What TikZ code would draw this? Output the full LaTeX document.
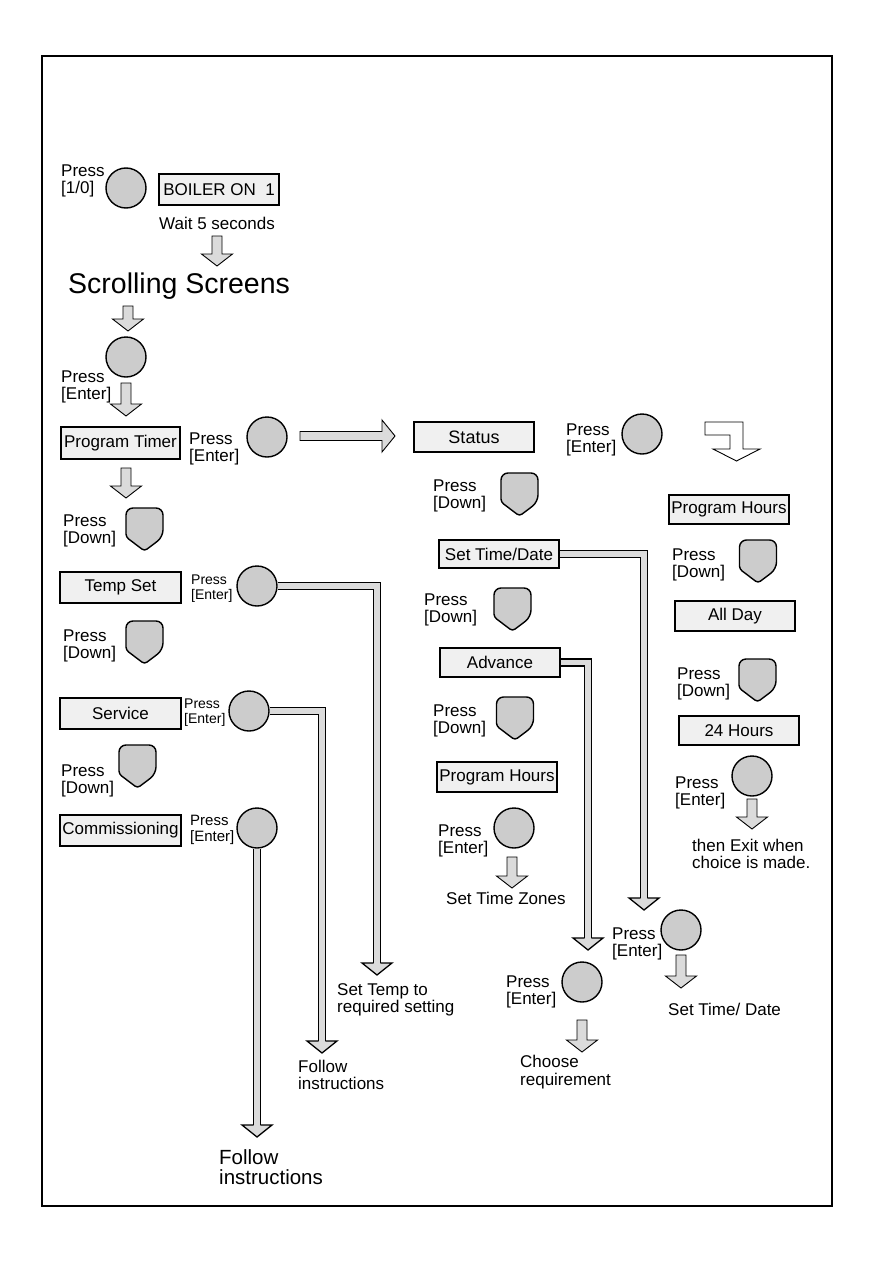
\documentclass[tikz,border=0pt]{standalone}
\usepackage{fontspec}
\setmainfont{Liberation Sans}
\usetikzlibrary{calc, positioning}

\definecolor{screengray}{gray}{0.94}
\definecolor{keygray}{gray}{0.8}
\definecolor{pipegray}{gray}{0.86}

\tikzset{
  screen/.style={draw, line width=1.6pt, fill=screengray, minimum width=120pt,
    minimum height=30pt, inner sep=0pt, font=\fontsize{17}{18}\selectfont},
  btn/.style={circle, draw, line width=1.4pt, fill=keygray, minimum size=40pt, inner sep=0pt},
  lbl/.style={anchor=west, align=left, inner sep=0pt, font=\fontsize{17}{17.5}\selectfont},
  smalllbl/.style={lbl, font=\fontsize{14}{15}\selectfont},
  hollow/.style={draw, line width=0.9pt, fill=pipegray, line join=miter},
  pipe/.style={draw, line width=1.4pt, double=pipegray, double distance=5.5pt},
  pics/darrow/.style={code={
    \draw[hollow] (-5,0) -- (5,0) -- (5,{#1-12}) -- (15.5,{#1-12}) -- (0,#1)
      -- (-15.5,{#1-12}) -- (-5,{#1-12}) -- cycle;}},
  pics/pipehead/.style={code={
    \filldraw[hollow, line width=1.3pt] (-3.45,0) -- (-15,0) -- (0,12) -- (15,0) -- (3.45,0);}},
  pics/downkey/.style={code={
    \draw[line width=1.4pt, fill=keygray] (0,0) [rounded corners=7pt] -- (18.5,0) -- (18.5,29)
      [rounded corners=3pt] -- (0,43) -- (-18.5,29) [rounded corners=7pt] -- (-18.5,0) -- cycle;}},
}

\begin{document}
\begin{tikzpicture}[x=1pt, y=-1pt]
\useasboundingbox (0,0) rectangle (893,1263);
\draw[line width=2pt] (42,56) rectangle (832,1206);

% switching on
\node (pOn) at (61,181) [lbl] {Press\\{[1/0]}};
\node (onBtn) at (126,188) [btn] {};
\node (boiler) at (219,189.5) [screen, minimum height=31pt] {BOILER ON\ \ 1};
\node (wait) at (159,223) [lbl] {Wait 5 seconds};
\pic (aWait) at (217,236) {darrow=30};
\node (scroll) at (68,286) [lbl, font=\fontsize{28.5}{30}\selectfont] {Scrolling Screens};
\pic (aScroll) at (128,306) {darrow=25};
\node (scrollBtn) at (126,357) [btn] {};
\node (pScroll) at (61,387) [lbl] {Press\\{[Enter]}};
\pic (aEnter) at (126,383) {darrow=33};

% left column
\node (ptBox) at (120.5,443) [screen, minimum width=119pt, minimum height=32pt] {Program Timer};
\node (pPt) at (189,449) [lbl] {Press\\{[Enter]}};
\node (ptBtn) at (267,437) [btn] {};
\pic (aPt) at (126,468) {darrow=30};
\node (pDown1) at (63,531) [lbl] {Press\\{[Down]}};
\pic (kDown1) at (144.5,508) {downkey};
\node (tempBox) at (120.5,587.5) [screen, minimum width=121pt, minimum height=31pt] {Temp Set};
\node (pTemp) at (191,589) [smalllbl] {Press\\{[Enter]}};
\node (tempBtn) at (257,586) [btn] {};
\node (pDown2) at (63,646) [lbl] {Press\\{[Down]}};
\pic (kDown2) at (144.5,621) {downkey};
\node (servBox) at (120.5,713.5) [screen, minimum width=121pt, minimum height=31pt] {Service};
\node (pServ) at (184,713) [smalllbl] {Press\\{[Enter]}};
\node (servBtn) at (249,711) [btn] {};
\node (pDown3) at (61,781) [lbl] {Press\\{[Down]}};
\pic (kDown3) at (137.5,745) {downkey};
\node (commBox) at (120.5,830.5) [screen, minimum width=121pt, minimum height=31pt] {Commissioning};
\node (pComm) at (190,830) [lbl, font=\fontsize{15}{16}\selectfont] {Press\\{[Enter]}};
\node (commBtn) at (257,828) [btn] {};

% pipes from the left column
\coordinate (tempEnd) at (377,963);
\coordinate (servEnd) at (322,1041);
\coordinate (commEnd) at (257,1125);
\draw[pipe] (tempBtn.east) -| (tempEnd);
\draw[pipe] (servBtn.east) -| (servEnd);
\draw[pipe] (commBtn.south) -- (commEnd);
\pic at (tempEnd) {pipehead};
\pic at (servEnd) {pipehead};
\pic at (commEnd) {pipehead};
\node (tempTxt) at (337,1000) [lbl] {Set Temp to\\required setting};
\node (servTxt) at (298,1075) [lbl] {Follow\\instructions};
\node (commTxt) at (219,1167) [lbl, font=\fontsize{20.5}{20.5}\selectfont] {Follow\\instructions};

% to the status screen
\coordinate (raStart) at (300,436);
\draw[hollow] (raStart) ++(0,-4.5) -- (382,431.5) -- (382,420) -- (395,436) -- (382,452)
  -- (382,440.5) -- (300,440.5) -- cycle;
\node (status) at (474,437) [screen, font=\fontsize{18}{19}\selectfont] {Status};
\node (pStat) at (566,440) [lbl] {Press\\{[Enter]}};
\node (statBtn) at (642,434) [btn] {};
\draw[hollow, fill=white] (705,422) -- (743,422) -- (743,449) -- (760,449) -- (736.5,461)
  -- (713,449) -- (730,449) -- (730,435) -- (705,435) -- cycle;

% middle column
\node (pDown4) at (433,496) [lbl] {Press\\{[Down]}};
\pic (kDown4) at (519.5,473) {downkey};
\node (stdBox) at (499,554) [screen, minimum height=28pt] {Set Time/Date};
\node (pDown5) at (424,610) [lbl] {Press\\{[Down]}};
\pic (kDown5) at (512.5,588) {downkey};
\node (advBox) at (500,662.5) [screen, minimum height=29pt] {Advance};
\node (pDown6) at (433,721) [lbl] {Press\\{[Down]}};
\pic (kDown6) at (515,697) {downkey};
\node (phBox) at (497,777) [screen] {Program Hours};
\node (pPh) at (438,841) [lbl] {Press\\{[Enter]}};
\node (phBtn) at (514,828) [btn] {};
\pic (aPh) at (512,857) {darrow=31};
\node (zones) at (446,898) [lbl] {Set Time Zones};

% right column
\node (ph2Box) at (729,509.5) [screen, minimum height=29pt] {Program Hours};
\node (pDown7) at (672,565) [lbl] {Press\\{[Down]}};
\pic (kDown7) at (758,540) {downkey};
\node (allBox) at (735,616) [screen] {All Day};
\node (pDown8) at (677,684) [lbl] {Press\\{[Down]}};
\pic (kDown8) at (757.5,659) {downkey};
\node (h24Box) at (739,730.5) [screen, minimum height=29pt] {24 Hours};
\node (pH24) at (675,793) [lbl] {Press\\{[Enter]}};
\node (h24Btn) at (752,776) [btn] {};
\pic (aH24) at (752,799) {darrow=30};
\node (exitTxt) at (692,854) [lbl] {then Exit when\\choice is made.};

% pipes from the middle column
\coordinate (stdEnd) at (644,898);
\coordinate (advEnd) at (588,938);
\draw[pipe] (stdBox.east) -| (stdEnd);
\draw[pipe] (advBox.east) -| (advEnd);
\pic at (stdEnd) {pipehead};
\pic at (advEnd) {pipehead};
\node (pStd) at (612,944) [lbl] {Press\\{[Enter]}};
\node (stdBtn) at (681,930) [btn] {};
\pic (aStd) at (681,955) {darrow=33};
\node (stdTxt) at (668,1009) [lbl] {Set Time/ Date};
\node (pAdv) at (506,992) [lbl] {Press\\{[Enter]}};
\node (advBtn) at (582,982) [btn] {};
\pic (aAdv) at (582,1020) {darrow=32};
\node (advTxt) at (520,1072) [lbl] {Choose\\requirement};
\end{tikzpicture}
\end{document}
